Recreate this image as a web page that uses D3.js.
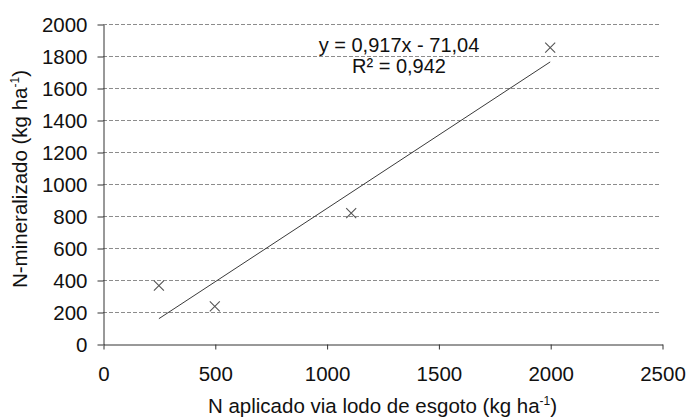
<!DOCTYPE html>
<html>
<head>
<meta charset="utf-8">
<script src="https://cdn.jsdelivr.net/npm/d3@7"></script>
<style>
  body { margin: 0; background: #fff; }
  svg { font-family: "Liberation Sans", Arial, sans-serif; }
</style>
</head>
<body>
<svg id="chart"></svg>
<script>
// data
const nApplied = [250, 500, 1110, 2000]
const nMineral = [365, 235, 818, 1852]
const xTicks = [0, 500, 1000, 1500, 2000, 2500]
const yTicks = [0, 200, 400, 600, 800, 1000, 1200, 1400, 1600, 1800, 2000]
// trend line as printed on the chart
const slope = 0.917
const intercept = -71.04
const eqText = 'y = 0,917x - 71,04'
const r2Text = 'R² = 0,942'

const width = 687, height = 417
const margin = {top: 24, right: 25, bottom: 73, left: 103}
const fs = 20.5

const svg = d3.select('#chart')
    .attr('width', width)
    .attr('height', height)

const x = d3.scaleLinear()
    .domain([0, 2500])
    .range([margin.left, width - margin.right])

const y = d3.scaleLinear()
    .domain([0, 2000])
    .range([height - margin.bottom, margin.top])

// dashed gridlines
svg.append('g')
    .selectAll('line')
    .data(yTicks.filter(d => d > 0))
    .join('line')
    .attr('x1', x(0))
    .attr('x2', x(2500) - 3)
    .attr('y1', d => y(d) + 0.5)
    .attr('y2', d => y(d) + 0.5)
    .attr('stroke', '#8c8c8c')
    .attr('stroke-width', 1)
    .attr('stroke-dasharray', '4,2')

// y axis
const yAxis = svg.append('g')
    .attr('transform', 'translate(' + (x(0) + 0.5) + ',0.5)')
    .call(d3.axisLeft(y).tickValues(yTicks).tickFormat(d3.format('d'))
        .tickSize(6).tickPadding(10).tickSizeOuter(0))
yAxis.select('.domain').attr('stroke', '#333')
yAxis.selectAll('.tick line').attr('stroke', '#333')
yAxis.selectAll('.tick text')
    .attr('font-size', fs)
    .attr('fill', '#111')
    .attr('dy', '0.36em')

// x axis
const xAxis = svg.append('g')
    .attr('transform', 'translate(0.5,' + (y(0) + 0.5) + ')')
    .call(d3.axisBottom(x).tickValues(xTicks).tickFormat(d3.format('d'))
        .tickSize(5).tickPadding(17).tickSizeOuter(0))
xAxis.select('.domain').attr('stroke', '#333')
xAxis.selectAll('.tick line').attr('stroke', '#333')
xAxis.selectAll('.tick text')
    .attr('font-size', fs)
    .attr('fill', '#111')

// trend line
svg.append('line')
    .attr('x1', x(d3.min(nApplied)))
    .attr('y1', y(slope * d3.min(nApplied) + intercept))
    .attr('x2', x(d3.max(nApplied)))
    .attr('y2', y(slope * d3.max(nApplied) + intercept))
    .attr('stroke', '#3a3a3a')
    .attr('stroke-width', 1)

// x markers
const pts = nApplied.map((d, i) => ({x: d, y: nMineral[i]}))
const s = 5
svg.append('g')
    .selectAll('path')
    .data(pts)
    .join('path')
    .attr('d', d => {
        const cx = x(d.x), cy = y(d.y)
        return `M${cx - s},${cy - s}L${cx + s},${cy + s}M${cx - s},${cy + s}L${cx + s},${cy - s}`
    })
    .attr('stroke', '#555')
    .attr('stroke-width', 1.1)
    .attr('fill', 'none')

// equation
svg.append('text')
    .attr('x', 399)
    .attr('y', 52)
    .attr('text-anchor', 'middle')
    .attr('font-size', fs - 0.5)
    .attr('fill', '#111')
    .text(eqText)
svg.append('text')
    .attr('x', 399)
    .attr('y', 73)
    .attr('text-anchor', 'middle')
    .attr('font-size', fs - 0.5)
    .attr('fill', '#111')
    .text(r2Text)

// axis titles
const xt = svg.append('text')
    .attr('x', (x(0) + x(2500)) / 2)
    .attr('y', 413)
    .attr('text-anchor', 'middle')
    .attr('font-size', fs)
    .attr('fill', '#111')
xt.append('tspan').text('N aplicado via lodo de esgoto (kg ha')
xt.append('tspan').attr('font-size', 12).attr('dy', -8).text('-1')
xt.append('tspan').attr('dy', 8).text(')')

const yt = svg.append('text')
    .attr('transform', 'translate(27,' + 179 + ') rotate(-90)')
    .attr('text-anchor', 'middle')
    .attr('font-size', fs)
    .attr('fill', '#111')
yt.append('tspan').text('N-mineralizado (kg ha')
yt.append('tspan').attr('font-size', 12).attr('dy', -8).text('-1')
yt.append('tspan').attr('dy', 8).text(')')
</script>
</body>
</html>
